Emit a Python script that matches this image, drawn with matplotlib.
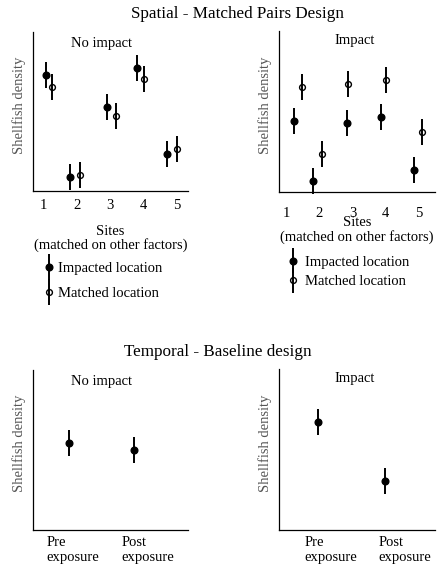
import matplotlib
matplotlib.use("Agg")
from matplotlib import pyplot as plt
from matplotlib.legend_handler import HandlerErrorbar
from matplotlib.container import ErrorbarContainer

plt.rcParams['font.family'] = ['Liberation Serif', 'DejaVu Serif']

# spatial design: sites 1-5, impacted vs matched location
sites = [1, 2, 3, 4, 5]
noimp_impacted_x = [1.09, 1.81, 2.91, 3.81, 4.70]
noimp_impacted_y = [73.0, 8.8, 52.8, 77.4, 23.3]
noimp_matched_x = [1.27, 2.10, 3.19, 4.01, 5.00]
noimp_matched_y = [65.4, 10.0, 47.2, 70.4, 26.4]
imp_impacted_x = [1.24, 1.81, 2.83, 3.85, 4.84]
imp_impacted_y = [44.1, 6.8, 42.9, 46.6, 13.7]
imp_matched_x = [1.48, 2.08, 2.86, 4.00, 5.08]
imp_matched_y = [65.2, 23.6, 67.1, 69.6, 37.3]
spatial_err = 8.2

# temporal design: pre / post exposure
periods = [1, 2]
period_labels = ["Pre\nexposure", "Post\nexposure"]
base_noimp_y = [54.4, 50.0]
base_imp_y = [67.0, 30.4]
base_err = 8.1
noimp_label_pos = [1.06, 2.21]
imp_label_pos = [1.19, 2.30]

W, H = 445, 571
fig = plt.figure(figsize=(W / 100, H / 100), dpi=100)


def make_ax(left, top, right, bottom):
    ax = fig.add_axes([left / W, 1 - bottom / H, (right - left) / W, (bottom - top) / H])
    ax.spines['top'].set_visible(False)
    ax.spines['right'].set_visible(False)
    ax.spines['left'].set_linewidth(0.9)
    ax.spines['bottom'].set_linewidth(0.9)
    ax.set_yticks([])
    ax.tick_params(axis='x', length=0, labelsize=10.5)
    ax.set_ylim(0, 100)
    ax.set_ylabel("Shellfish density", fontsize=10.5, color='#555555', y=0.54, labelpad=5)
    return ax


def points(ax, x, y, err, filled, label=None):
    if filled:
        return ax.errorbar(x, y, yerr=err, fmt='o', color='black', ms=4.8,
                           elinewidth=1.4, capsize=0, clip_on=False, label=label)
    return ax.errorbar(x, y, yerr=err, fmt='o', color='black', ms=4.2, mfc='none',
                       mew=1.0, elinewidth=1.4, capsize=0, clip_on=False, label=label)


fig.text(237 / W, 1 - 14 / H, "Spatial - Matched Pairs Design", ha='center', va='center', fontsize=12.3)
fig.text(218 / W, 1 - 352 / H, "Temporal - Baseline design", ha='center', va='center', fontsize=12.3)

# spatial, no impact
ax1 = make_ax(33, 32, 188, 191)
ax1.set_xlim(0.70, 5.33)
points(ax1, noimp_impacted_x, noimp_impacted_y, spatial_err, True, "Impacted location")
points(ax1, noimp_matched_x, noimp_matched_y, spatial_err, False, "Matched location")
ax1.set_xticks(sites)
ax1.tick_params(axis='x', pad=6)
ax1.set_xlabel("Sites\n(matched on other factors)", fontsize=10.5, linespacing=1.0)
ax1.xaxis.set_label_coords(0.5, -0.215)
ax1.text(0.445, 0.93, "No impact", transform=ax1.transAxes, ha='center', va='center', fontsize=10.5)
ax1.legend(loc='upper left', bbox_to_anchor=(0.075, -0.444), frameon=False, fontsize=10.5,
           handlelength=0.6, handletextpad=0.3, labelspacing=0.83, borderpad=0, borderaxespad=0,
           handler_map={ErrorbarContainer: HandlerErrorbar(yerr_size=0.9)})

# spatial, impact
ax2 = make_ax(279, 31, 435, 192)
ax2.set_xlim(0.79, 5.48)
points(ax2, imp_impacted_x, imp_impacted_y, spatial_err, True, "Impacted location")
points(ax2, imp_matched_x, imp_matched_y, spatial_err, False, "Matched location")
ax2.set_xticks(sites)
ax2.tick_params(axis='x', pad=11)
ax2.set_xlabel("Sites\n(matched on other factors)", fontsize=10.5, linespacing=1.15)
ax2.xaxis.set_label_coords(0.5, -0.147)
ax2.text(0.487, 0.944, "Impact", transform=ax2.transAxes, ha='center', va='center', fontsize=10.5)
ax2.legend(loc='upper left', bbox_to_anchor=(0.062, -0.395), frameon=False, fontsize=10.5,
           handlelength=0.6, handletextpad=0.55, labelspacing=0.44, borderpad=0, borderaxespad=0,
           handler_map={ErrorbarContainer: HandlerErrorbar(yerr_size=0.85)})

# temporal, no impact
ax3 = make_ax(33, 370, 188, 530)
ax3.set_xlim(0.446, 2.83)
points(ax3, periods, base_noimp_y, base_err, True)
ax3.set_xticks(noimp_label_pos)
ax3.set_xticklabels(period_labels, multialignment='left', linespacing=1.15)
ax3.tick_params(axis='x', pad=4.5)
ax3.text(0.445, 0.93, "No impact", transform=ax3.transAxes, ha='center', va='center', fontsize=10.5)

# temporal, impact
ax4 = make_ax(279, 369, 435, 530)
ax4.set_xlim(0.418, 2.746)
points(ax4, periods, base_imp_y, base_err, True)
ax4.set_xticks(imp_label_pos)
ax4.set_xticklabels(period_labels, multialignment='left', linespacing=1.15)
ax4.tick_params(axis='x', pad=4.5)
ax4.text(0.487, 0.944, "Impact", transform=ax4.transAxes, ha='center', va='center', fontsize=10.5)

fig.savefig("out.png", dpi=100)
